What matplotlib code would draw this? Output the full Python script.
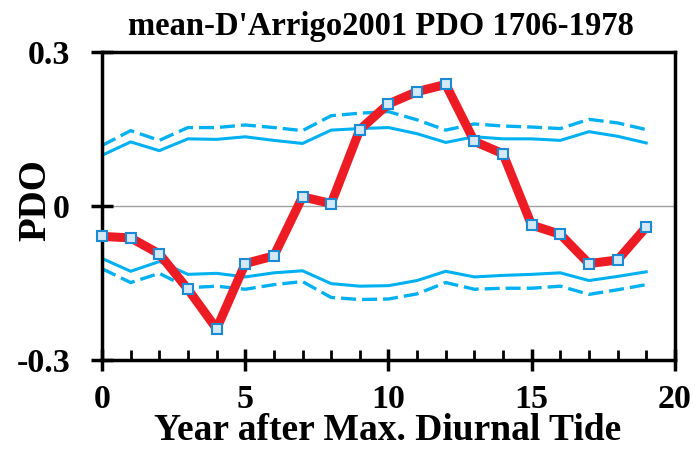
import numpy as np
import matplotlib
matplotlib.use('Agg')
import matplotlib.pyplot as plt
from matplotlib.ticker import MultipleLocator

# Anos apos a mare diurna maxima
anos = np.arange(20)

pdo = [-0.059, -0.062, -0.093, -0.162, -0.239, -0.112, -0.097, 0.018, 0.005, 0.149,
       0.199, 0.223, 0.237, 0.126, 0.102, -0.037, -0.055, -0.112, -0.105, -0.041]

sup_solido = [0.099, 0.125, 0.108, 0.131, 0.130, 0.135, 0.128, 0.122, 0.148, 0.151,
              0.153, 0.141, 0.124, 0.135, 0.131, 0.131, 0.128, 0.145, 0.136, 0.123]
sup_tracejado = [0.118, 0.147, 0.128, 0.153, 0.153, 0.158, 0.153, 0.147, 0.176, 0.181,
                 0.184, 0.168, 0.148, 0.160, 0.156, 0.154, 0.151, 0.169, 0.162, 0.149]
inf_solido = [-0.102, -0.127, -0.108, -0.133, -0.131, -0.138, -0.130, -0.126, -0.151, -0.156,
              -0.155, -0.145, -0.127, -0.138, -0.135, -0.133, -0.130, -0.145, -0.137, -0.128]
inf_tracejado = [-0.122, -0.149, -0.131, -0.159, -0.156, -0.162, -0.153, -0.147, -0.178, -0.182,
                 -0.181, -0.171, -0.149, -0.162, -0.160, -0.160, -0.156, -0.172, -0.163, -0.153]

plt.rcParams['font.family'] = ['Liberation Serif', 'DejaVu Serif']
plt.rcParams['font.weight'] = 'bold'

fig = plt.figure(figsize=(6.96, 4.49), dpi=100)
ax = fig.add_axes([0.1466, 0.198, 0.823, 0.686])

azul = '#00b0f0'
ax.axhline(0, color='#a0a0a0', lw=1.0, zorder=1)
ax.plot(anos, sup_tracejado, '--', color=azul, lw=2.4, dashes=(4.5, 1.8), zorder=2)
ax.plot(anos, inf_tracejado, '--', color=azul, lw=2.4, dashes=(4.5, 1.8), zorder=2)
ax.plot(anos, sup_solido, '-', color=azul, lw=2.2, zorder=2)
ax.plot(anos, inf_solido, '-', color=azul, lw=2.2, zorder=2)
ax.plot(anos, pdo, '-', color='#ed1c24', lw=6.5, marker='s', ms=6.5,
        mfc='#d4e8f5', mec='#1b8ad3', mew=1.5, zorder=3, clip_on=False)

ax.set_xlim(0, 20)
ax.set_ylim(-0.3, 0.3)
ax.xaxis.set_major_locator(MultipleLocator(5))
ax.xaxis.set_minor_locator(MultipleLocator(1))
ax.set_yticks([-0.3, 0, 0.3])
ax.set_yticklabels(['-0.3', '0', '0.3'])

for s in ax.spines.values():
    s.set_linewidth(2.5)
ax.tick_params(axis='both', which='major', direction='inout', length=16, width=2.5,
               labelsize=24.5)
ax.tick_params(axis='y', which='major', pad=15)
ax.tick_params(axis='x', which='major', pad=9)
ax.tick_params(axis='x', which='minor', direction='in', length=7, width=2)

ax.set_xlabel('Year after Max. Diurnal Tide', fontsize=27, fontweight='bold', va='baseline')
ax.xaxis.set_label_coords(0.499, -0.258)
ax.set_ylabel('PDO', fontsize=28, fontweight='bold', va='center', ha='center')
ax.yaxis.set_label_coords(-0.115, 0.52)
fig.text(381 / 696, 0.922, "mean-D'Arrigo2001 PDO 1706-1978", fontsize=23.5,
         fontweight='bold', ha='center', va='baseline')

fig.savefig('out.png', dpi=100)
